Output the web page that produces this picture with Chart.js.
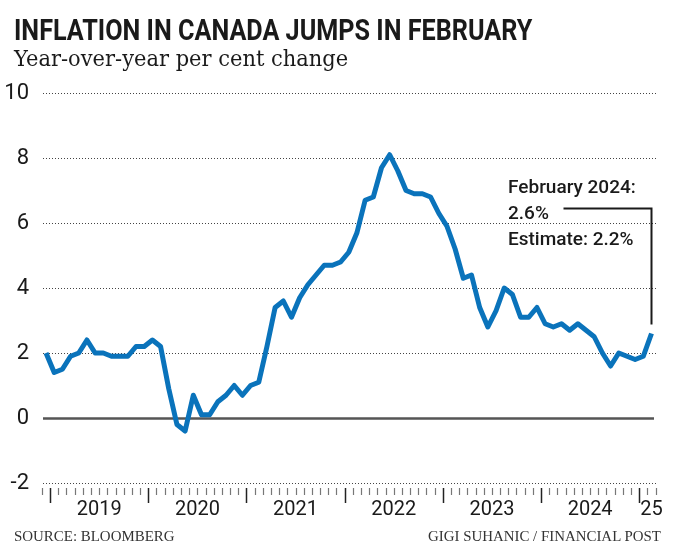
<!DOCTYPE html>
<html>
<head>
<meta charset="utf-8">
<script src="https://cdn.jsdelivr.net/npm/chart.js@4.4.1/dist/chart.umd.min.js"></script>
<style>
  html, body { margin: 0; padding: 0; background: #fff; }
  #wrap { position: relative; width: 679px; height: 556px; overflow: hidden; }
  #chart { position: absolute; left: 0; top: 0; }
  .txt { position: absolute; white-space: nowrap; color: #1a1a1a; transform-origin: left top; }
  #title { left: 14px; top: 15px; font: 700 30px/30px Roboto, sans-serif; letter-spacing: 0; }
  #subtitle { left: 14px; top: 49px; font: 400 22px/20px "DejaVu Serif", serif; }
  #note { left: 508px; top: 174px; font: 500 19px/26px Roboto, sans-serif; color: #1a1a1a; }
  .foot { top: 530px; font: 400 14px/14px "Liberation Serif", serif; color: #333; }
  #src { left: 14px; }
  #credit { right: 18px; transform-origin: right top; }
</style>
</head>
<body>
<div id="wrap">
  <canvas id="chart" width="679" height="556"></canvas>
  <div class="txt" id="title">INFLATION IN CANADA JUMPS IN FEBRUARY</div>
  <div class="txt" id="subtitle">Year-over-year per cent change</div>
  <div class="txt" id="note">February 2024:<br>2.6%<br>Estimate: 2.2%</div>
  <div class="txt foot" id="src">SOURCE: BLOOMBERG</div>
  <div class="txt foot" id="credit">GIGI SUHANIC / FINANCIAL POST</div>
</div>
<script>
// Data: monthly CPI, Dec 2018 through Feb 2025
const YEARS = [2018, 2019, 2020, 2021, 2022, 2023, 2024, 2025];
const MONTH_NAMES = ['Jan', 'Feb', 'Mar', 'Apr', 'May', 'Jun', 'Jul', 'Aug', 'Sep', 'Oct', 'Nov', 'Dec'];
const CPI = [
  2.0,
  1.4, 1.5, 1.9, 2.0, 2.4, 2.0, 2.0, 1.9, 1.9, 1.9, 2.2, 2.2,
  2.4, 2.2, 0.9, -0.2, -0.4, 0.7, 0.1, 0.1, 0.5, 0.7, 1.0, 0.7,
  1.0, 1.1, 2.2, 3.4, 3.6, 3.1, 3.7, 4.1, 4.4, 4.7, 4.7, 4.8,
  5.1, 5.7, 6.7, 6.8, 7.7, 8.1, 7.6, 7.0, 6.9, 6.9, 6.8, 6.3,
  5.9, 5.2, 4.3, 4.4, 3.4, 2.8, 3.3, 4.0, 3.8, 3.1, 3.1, 3.4,
  2.9, 2.8, 2.9, 2.7, 2.9, 2.7, 2.5, 2.0, 1.6, 2.0, 1.9, 1.8,
  1.9, 2.6
];
const Y_TICKS = [-2, 0, 2, 4, 6, 8, 10];
const X_LABELS = ['2019', '2020', '2021', '2022', '2023', '2024', '25'];
// label positions in month-index units (0 = Dec 2018)
const X_LABEL_POS = [6.5, 18.5, 30.5, 42.5, 54.5, 66.5, 74];

// month labels for each point
const MONTHS = ['Dec 2018'];
YEARS.slice(1).forEach(y => {
  MONTH_NAMES.forEach(m => {
    if (MONTHS.length < CPI.length) MONTHS.push(m + ' ' + y);
  });
});

const points = CPI.map((v, i) => ({ x: i, y: v }));

// Fit the header / footer text widths to the reference
function fitWidth(id, w) {
  const el = document.getElementById(id);
  el.style.transform = 'scaleX(' + (w / el.offsetWidth) + ')';
}
fitWidth('title', 518);
fitWidth('subtitle', 334);
fitWidth('src', 161);
fitWidth('credit', 233);

const gridAndTicks = {
  id: 'gridAndTicks',
  beforeDatasetsDraw(chart) {
    const ctx = chart.ctx;
    const { left, right } = chart.chartArea;
    const ys = chart.scales.y;
    ctx.save();
    Y_TICKS.forEach(t => {
      const py = Math.round(ys.getPixelForValue(t)) + 0.5;
      ctx.beginPath();
      if (t === 0) {
        ctx.setLineDash([]);
        ctx.strokeStyle = '#555';
        ctx.lineWidth = 2.5;
        ctx.moveTo(left, py);
        ctx.lineTo(right - 2, py);
      } else {
        ctx.setLineDash([1, 2]);
        ctx.strokeStyle = '#444';
        ctx.lineWidth = 1;
        ctx.moveTo(left, py);
        ctx.lineTo(right, py);
      }
      ctx.stroke();
    });
    ctx.restore();
  },
  afterDraw(chart) {
    const ctx = chart.ctx;
    const xs = chart.scales.x;
    const ys = chart.scales.y;
    const base = chart.chartArea.bottom + 5;
    ctx.save();
    // month ticks below the axis
    for (let k = -1; k < CPI.length; k++) {
      const px = Math.round(xs.getPixelForValue(k + 0.5)) + 0.5;
      const major = k % 12 === 0;
      ctx.beginPath();
      ctx.strokeStyle = major ? '#222' : '#777';
      ctx.lineWidth = major ? 1.5 : 1.2;
      ctx.moveTo(px, base);
      ctx.lineTo(px, base + (major ? 15 : 7));
      ctx.stroke();
    }
    // callout bracket to the last point
    const last = CPI.length - 1;
    const lx = xs.getPixelForValue(last);
    const ly = ys.getPixelForValue(CPI[last]);
    const topY = ys.getPixelForValue(6.45);
    ctx.beginPath();
    ctx.strokeStyle = '#1a1a1a';
    ctx.lineWidth = 2;
    ctx.moveTo(lx - 88, topY);
    ctx.lineTo(lx, topY);
    ctx.lineTo(lx, ly - 9);
    ctx.stroke();
    ctx.restore();
  }
};

new Chart(document.getElementById('chart'), {
  type: 'line',
  data: {
    labels: MONTHS,
    datasets: [{
      label: 'CPI',
      data: points,
      borderColor: '#0a73bb',
      borderWidth: 5,
      borderJoinStyle: 'round',
      borderCapStyle: 'butt',
      pointRadius: 0,
      tension: 0,
      fill: false
    }]
  },
  options: {
    responsive: false,
    animation: false,
    layout: { padding: { left: 0, right: 23, top: 93, bottom: 33 } },
    plugins: {
      legend: { display: false },
      tooltip: { enabled: false }
    },
    scales: {
      x: {
        type: 'linear',
        min: -0.37,
        max: 74.55,
        grid: { display: false },
        border: { display: false },
        afterBuildTicks(scale) {
          scale.ticks = X_LABEL_POS.map(v => ({ value: v }));
        },
        afterFit(scale) { scale.height = 40; },
        ticks: {
          autoSkip: false,
          maxRotation: 0,
          padding: 7,
          color: '#1a1a1a',
          font: { family: 'Roboto', size: 20 },
          callback: (value, index) => X_LABELS[index]
        }
      },
      y: {
        min: -2,
        max: 10,
        grid: { display: false },
        border: { display: false },
        afterBuildTicks(scale) {
          scale.ticks = Y_TICKS.map(v => ({ value: v }));
        },
        afterFit(scale) { scale.width = 43; },
        ticks: {
          padding: 6,
          color: '#1a1a1a',
          font: { family: 'Roboto', size: 22 },
          callback: v => String(v)
        }
      }
    }
  },
  plugins: [gridAndTicks]
});
</script>
</body>
</html>
